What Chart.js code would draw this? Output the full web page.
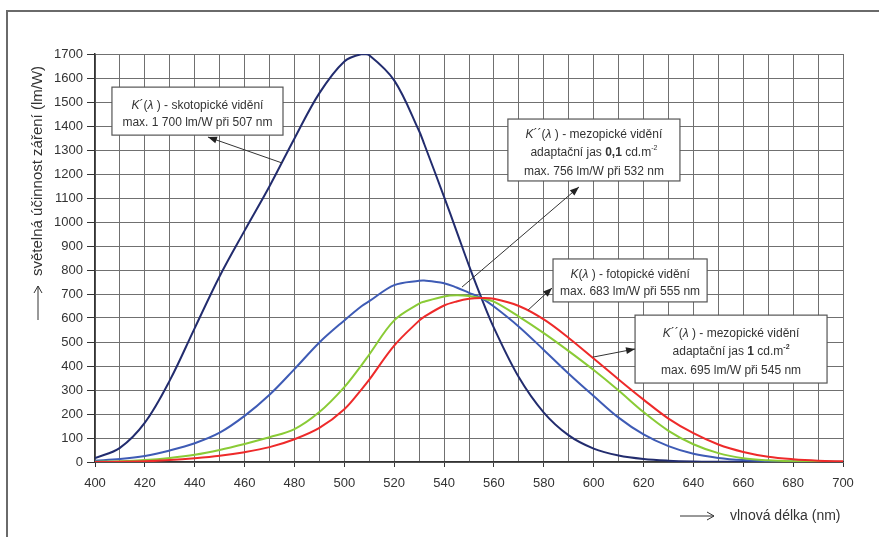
<!DOCTYPE html>
<html><head><meta charset="utf-8">
<script src="https://cdn.jsdelivr.net/npm/chart.js@4.4.1/dist/chart.umd.min.js"></script>
<style>html,body{margin:0;padding:0;background:#fff}#wrap{width:879px;height:537px;position:relative}</style>
</head><body><div id="wrap"><canvas id="c" width="879" height="537"></canvas></div>
<script>
// ---- data ----
const wavelengths = [400,410,420,430,440,450,460,470,480,490,500,507,510,520,530,532,540,545,550,555,560,570,580,590,600,610,620,630,640,650,660,670,680,690,700];
const scotopic   = [16,59,164,340,558,774,964,1149,1348,1537,1669,1700,1695,1590,1379,1326,1105,962,818,683,559,353,206,111,56,27,12.5,5.7,2.5,1.2,0.5,0.25,0.12,0.06,0.03];
const mesopic01  = [5,12,25,48,78,122,192,280,387,498,590,650,670,737,755,756,745,727,705,683,648,564,467,368,275,185,115,66,34,17,8,4,2,1,0.5];
const mesopic1   = [1,3,8,17,30,50,75,103,137,208,312,405,448,590,660,668,690,695,692,683,668,606,537,462,383,298,208,130,74,37,16,7,3,1,0.5];
const photopic   = [0.27,0.82,2.7,7.9,15.7,26,41,62,95,142,220,304,343,485,589,605,652,669,680,683,680,650,594,517,431,344,260,181,120,73,42,22,11.6,5.6,2.8];
const xTickLabels = [400,420,440,460,480,500,520,540,560,580,600,620,640,660,680,700];
const yTickLabels = [0,100,200,300,400,500,600,700,800,900,1000,1100,1200,1300,1400,1500,1600,1700];
const xTitle = 'vlnová délka (nm)';
const yTitle = 'světelná účinnost záření (lm/W)';

const FONT = '"Liberation Sans", Arial, sans-serif';
function pts(arr){ return wavelengths.map((w,i)=>({x:w,y:arr[i]})); }

// annotations in data coordinates (nm, lm/W)
const annotations = [
  { box:[406.8,475.4,1562,1362], lines:[
      [{t:'K',i:1},{t:'´('},{t:'λ',i:1},{t:' ) - skotopické vidění'}],
      [{t:'max. 1 700 lm/W při 507 nm'}]],
    arrow:{from:[475,1246], to:[445.3,1354]} },
  { box:[565.6,634.6,1429,1171], lines:[
      [{t:'K',i:1},{t:'´´('},{t:'λ',i:1},{t:' ) - mezopické vidění'}],
      [{t:'adaptační jas '},{t:'0,1',b:1},{t:' cd.m'},{t:'-2',sup:1}],
      [{t:'max. 756 lm/W při 532 nm'}]],
    arrow:{from:[547.2,729], to:[594.1,1146]} },
  { box:[583.7,645.5,846,667], lines:[
      [{t:'K',i:1},{t:'('},{t:'λ',i:1},{t:' ) - fotopické vidění'}],
      [{t:'max. 683 lm/W při 555 nm'}]],
    arrow:{from:[573.7,633], to:[583.3,725]} },
  { box:[616.6,693.6,612,329], lines:[
      [{t:'K',i:1},{t:'´´('},{t:'λ',i:1},{t:' ) - mezopické vidění'}],
      [{t:'adaptační jas '},{t:'1',b:1},{t:' cd.m'},{t:'-2',sup:1,b:1}],
      [{t:'max. 695 lm/W při 545 nm'}]],
    arrow:{from:[599.7,437], to:[616.6,471]} }
];

function segFont(s,size){
  const sz = s.sup ? Math.round(size*0.62) : size;
  return (s.i?'italic ':'')+(s.b?'bold ':'')+sz+'px '+FONT;
}
function drawRich(ctx, segs, cx, cy, size){
  let total=0;
  segs.forEach(s=>{ctx.font=segFont(s,size); s.w=ctx.measureText(s.t).width; total+=s.w;});
  let x=cx-total/2;
  segs.forEach(s=>{ctx.font=segFont(s,size); ctx.fillText(s.t, x, s.sup?cy-5:cy); x+=s.w;});
}
function arrowHead(ctx, x0,y0,x1,y1,len,half){
  const a=Math.atan2(y1-y0,x1-x0);
  ctx.beginPath();
  ctx.moveTo(x1,y1);
  ctx.lineTo(x1-len*Math.cos(a)+half*Math.sin(a), y1-len*Math.sin(a)-half*Math.cos(a));
  ctx.lineTo(x1-len*Math.cos(a)-half*Math.sin(a), y1-len*Math.sin(a)+half*Math.cos(a));
  ctx.closePath(); ctx.fill();
}
function openArrow(ctx,x0,y0,x1,y1){
  const a=Math.atan2(y1-y0,x1-x0);
  ctx.beginPath(); ctx.moveTo(x0,y0); ctx.lineTo(x1,y1);
  ctx.moveTo(x1-7*Math.cos(a)+4*Math.sin(a), y1-7*Math.sin(a)-4*Math.cos(a));
  ctx.lineTo(x1,y1);
  ctx.lineTo(x1-7*Math.cos(a)-4*Math.sin(a), y1-7*Math.sin(a)+4*Math.cos(a));
  ctx.stroke();
}

const decor = {
  id:'decor',
  afterDraw(chart){
    const ctx=chart.ctx, xs=chart.scales.x, ys=chart.scales.y;
    ctx.save();
    // outer frame (top + left)
    ctx.strokeStyle='#6a6a6a'; ctx.lineWidth=2;
    ctx.beginPath(); ctx.moveTo(879,11); ctx.lineTo(7,11); ctx.lineTo(7,537); ctx.stroke();
    // axis titles
    ctx.fillStyle='#333'; ctx.strokeStyle='#333'; ctx.lineWidth=1;
    ctx.font='14px '+FONT; ctx.textBaseline='middle'; ctx.textAlign='left';
    ctx.fillText(xTitle, 730, 516);
    openArrow(ctx, 680, 516, 714, 516);
    ctx.save();
    ctx.translate(38, 276); ctx.rotate(-Math.PI/2);
    ctx.font='15px '+FONT; ctx.fillText(yTitle, 0, 0);
    ctx.restore();
    openArrow(ctx, 38, 320, 38, 286);
    // annotations
    annotations.forEach(an=>{
      const x0=xs.getPixelForValue(an.box[0]), x1=xs.getPixelForValue(an.box[1]);
      const y0=ys.getPixelForValue(an.box[2]), y1=ys.getPixelForValue(an.box[3]);
      ctx.fillStyle='#fff'; ctx.fillRect(x0,y0,x1-x0,y1-y0);
      ctx.strokeStyle='#555'; ctx.lineWidth=1.2; ctx.strokeRect(x0,y0,x1-x0,y1-y0);
      const n=an.lines.length, sp = n===3?18.5:17;
      const cy=(y0+y1)/2+3;
      ctx.fillStyle='#333'; ctx.textBaseline='middle'; ctx.textAlign='left';
      an.lines.forEach((ln,i)=>drawRich(ctx, ln, (x0+x1)/2, cy+(i-(n-1)/2)*sp, 12));
      const ax0=xs.getPixelForValue(an.arrow.from[0]), ay0=ys.getPixelForValue(an.arrow.from[1]);
      const ax1=xs.getPixelForValue(an.arrow.to[0]), ay1=ys.getPixelForValue(an.arrow.to[1]);
      ctx.strokeStyle='#333'; ctx.lineWidth=1;
      ctx.beginPath(); ctx.moveTo(ax0,ay0); ctx.lineTo(ax1,ay1); ctx.stroke();
      ctx.fillStyle='#222'; arrowHead(ctx,ax0,ay0,ax1,ay1,9,3.5);
    });
    ctx.restore();
  }
};

const tickFont = {family:FONT, size:13};
new Chart(document.getElementById('c'), {
  type:'line',
  data:{ datasets:[
    {label:'K(λ) fotopické', data:pts(photopic), borderColor:'#ee2a2a'},
    {label:'K´´(λ) 1 cd', data:pts(mesopic1), borderColor:'#8acb36'},
    {label:'K´´(λ) 0,1 cd', data:pts(mesopic01), borderColor:'#3e5bb5'},
    {label:'K´(λ) skotopické', data:pts(scotopic), borderColor:'#222c6e'}
  ].map(d=>Object.assign(d,{borderWidth:2, pointRadius:0, fill:false, tension:0.35}))},
  options:{
    responsive:false, animation:false,
    layout:{padding:{left:0,right:36,top:54,bottom:0}},
    plugins:{legend:{display:false}, tooltip:{enabled:false}},
    scales:{
      x:{ type:'linear', min:400, max:700,
        ticks:{stepSize:10, autoSkip:false, maxRotation:0, padding:9, font:tickFont, color:'#333',
          callback:v=> xTickLabels.includes(v)? String(v):''},
        grid:{color:'#707070', lineWidth:1, tickLength:5,
          tickColor:c=> (c.tick && c.tick.value%20===0)?'#333':'rgba(0,0,0,0)'},
        border:{color:'#333', width:1.5},
        afterFit:s=>{s.height=75;} },
      y:{ min:0, max:1700,
        ticks:{stepSize:100, autoSkip:false, padding:4, font:tickFont, color:'#333',
          callback:v=> yTickLabels.includes(v)? String(v):''},
        grid:{color:'#707070', lineWidth:1, tickLength:8, tickColor:'#333'},
        border:{color:'#333', width:1.5},
        afterFit:s=>{s.width=95;} }
    }
  },
  plugins:[decor]
});
</script></body></html>
